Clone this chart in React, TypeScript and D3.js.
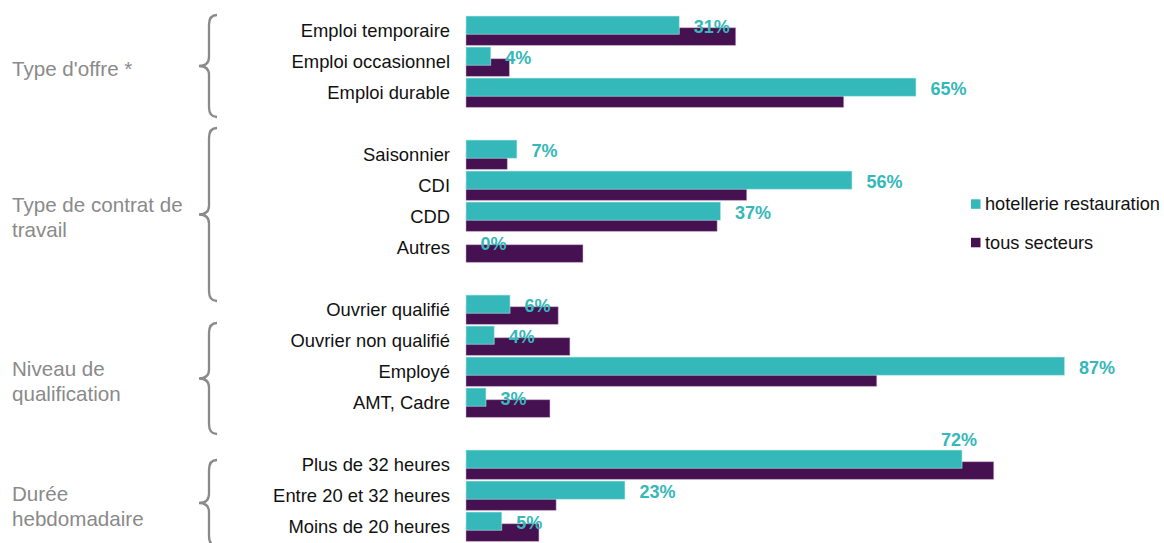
import React from 'react';
import * as d3 from 'd3';

const categories = [
  'Emploi temporaire',
  'Emploi occasionnel',
  'Emploi durable',
  'Saisonnier',
  'CDI',
  'CDD',
  'Autres',
  'Ouvrier qualifié',
  'Ouvrier non qualifié',
  'Employé',
  'AMT, Cadre',
  'Plus de 32 heures',
  'Entre 20 et 32 heures',
  'Moins de 20 heures',
];
const groupOf = [0, 0, 0, 1, 1, 1, 1, 2, 2, 2, 2, 3, 3, 3];
const groupLabels = [
  ["Type d'offre *"],
  ['Type de contrat de', 'travail'],
  ['Niveau de', 'qualification'],
  ['Durée', 'hebdomadaire'],
];
const hotellerie = [31, 3.6, 65.4, 7.4, 56.1, 37, 0, 6.4, 4.1, 87, 2.9, 72.1, 23.1, 5.2];
const tousSecteurs = [39.2, 6.3, 54.9, 6.0, 40.8, 36.5, 17.0, 13.4, 15.1, 59.7, 12.2, 76.7, 13.1, 10.6];
const seriesNames = ['hotellerie restauration', 'tous secteurs'];
const labelAbove = ['Plus de 32 heures'];
// vertical extent of each brace on the left
const braceSpans = [
  [15, 117],
  [128, 301],
  [323, 434],
  [460, 546],
];

const TEAL = '#35b8b9';
const PURPLE = '#461150';
const GREY = '#8a8a8a';
const FONT = '"Liberation Sans", Arial, sans-serif';

const W = 1164;
const H = 543;

// row keys, with an empty row between groups
const rows: string[] = [];
categories.forEach((c, i) => {
  if (i > 0 && groupOf[i] !== groupOf[i - 1]) rows.push(`gap-${groupOf[i]}`);
  rows.push(c);
});

const App: React.FC = () => {
  const x = d3.scaleLinear().domain([0, 100]).range([466, 1154]);
  const y = d3.scaleBand().domain(rows).range([15.15, 542.15]).padding(0);
  const center = (c: string) => (y(c) as number) + y.bandwidth() / 2;

  const bracePath = (y0: number, y1: number) => {
    const xv = 209;
    const ym = (y0 + y1) / 2;
    return `M217,${y0} Q${xv},${y0} ${xv},${y0 + 10} L${xv},${ym - 9} Q${xv},${ym} 199,${ym} Q${xv},${ym} ${xv},${ym + 9} L${xv},${y1 - 10} Q${xv},${y1} 217,${y1}`;
  };

  return (
    <svg width={W} height={H} style={{ position: 'absolute', left: 0, top: 0 }} fontFamily={FONT}>
      {/* braces and group labels */}
      {braceSpans.map(([y0, y1], g) => {
        const tip = (y0 + y1) / 2 + 3;
        const lines = groupLabels[g];
        const first = tip - ((lines.length - 1) * 25) / 2;
        return (
          <g key={g}>
            <path d={bracePath(y0, y1)} fill="none" stroke={GREY} strokeWidth={2.3} />
            <text fill={GREY} fontSize={20.6} x={12}>
              {lines.map((l, i) => (
                <tspan key={i} x={12} y={first + i * 25 + 7.4}>
                  {l}
                </tspan>
              ))}
            </text>
          </g>
        );
      })}

      {/* category labels */}
      {categories.map((c) => (
        <text key={c} x={450} y={center(c) + 6.5} textAnchor="end" fontSize={18.4} fill="#111">
          {c}
        </text>
      ))}

      {/* tous secteurs bars (behind) */}
      {categories.map((c, i) => (
        <rect
          key={c}
          x={x(0)}
          y={center(c) - 2.9}
          width={x(tousSecteurs[i]) - x(0)}
          height={17.6}
          fill={PURPLE}
          stroke="#c9a9cf"
          strokeOpacity={0.6}
          strokeWidth={0.8}
        />
      ))}

      {/* hotellerie restauration bars */}
      {categories.map((c, i) =>
        hotellerie[i] > 0 ? (
          <rect
            key={c}
            x={x(0)}
            y={center(c) - 14.6}
            width={x(hotellerie[i]) - x(0)}
            height={18.2}
            fill={TEAL}
            stroke="#bfe8e8"
            strokeOpacity={0.7}
            strokeWidth={0.8}
          />
        ) : null
      )}

      {/* value labels */}
      {categories.map((c, i) => {
        const above = labelAbove.includes(c);
        const tc = center(c) - 5.5;
        return (
          <text
            key={c}
            x={above ? x(hotellerie[i]) - 3 : x(hotellerie[i]) + 14.5}
            y={above ? center(c) - 14.6 - 11 + 6.6 : tc + 1 + 6.6}
            textAnchor={above ? 'middle' : 'start'}
            fontSize={18}
            fontWeight="bold"
            fill={TEAL}
          >
            {`${Math.round(hotellerie[i])}%`}
          </text>
        );
      })}

      {/* legend */}
      {seriesNames.map((s, i) => {
        const cy = 204 + i * 38.5;
        return (
          <g key={s}>
            <rect x={971} y={cy - 4.7} width={9.5} height={9.5} fill={i === 0 ? TEAL : PURPLE} />
            <text x={985} y={cy + 6.4} fontSize={18.2} fill="#111">
              {s}
            </text>
          </g>
        );
      })}
    </svg>
  );
};

export default App;
